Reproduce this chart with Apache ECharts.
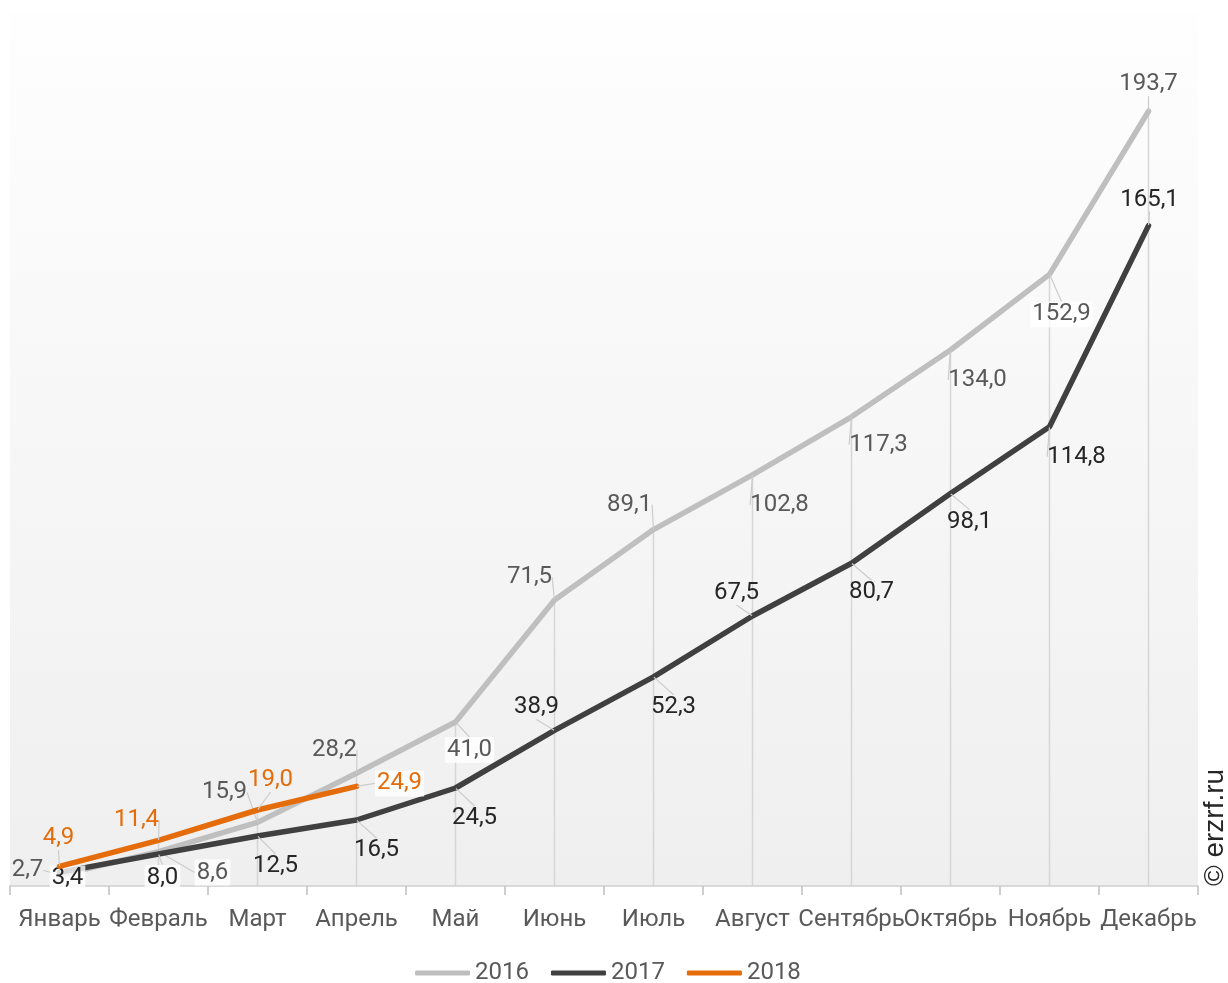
<!DOCTYPE html>
<html>
<head>
<meta charset="utf-8">
<script src="https://cdn.jsdelivr.net/npm/echarts@6/dist/echarts.min.js"></script>
<style>
html,body{margin:0;padding:0;background:#fff;}
#chart{width:1228px;height:983px;}
</style>
</head>
<body>
<div id="chart"></div>
<script>
// ---- data ----
const categories = ['Январь','Февраль','Март','Апрель','Май','Июнь','Июль','Август','Сентябрь','Октябрь','Ноябрь','Декабрь'];
const seriesNames = ['2016','2017','2018'];
const values2016 = [2.7, 8.6, 15.9, 28.2, 41.0, 71.5, 89.1, 102.8, 117.3, 134.0, 152.9, 193.7];
const values2017 = [3.4, 8.0, 12.5, 16.5, 24.5, 38.9, 52.3, 67.5, 80.7, 98.1, 114.8, 165.1];
const values2018 = [4.9, 11.4, 19.0, 24.9];

// ---- label placement (pixel offsets of label centre from point) ----
const offsets2016 = [[-32,-5],[54,21],[-33,-30],[-22,-23],[14,28],[-25,-23],[-24,-25],[27,30],[27,28],[27,30],[12,40],[0,-27]];
const offsets2017 = [[8,6],[4,24],[18,30],[20,30],[19,30],[-18,-23],[20,30],[-16,-23],[20,29],[19,28],[27,30],[1,-26]];
const offsets2018 = [[-1,-28],[-22,-20],[13,-30],[43,-3]];
const bg2016 = [0,1,0,0,1,0,0,0,0,0,1,0];
const bg2017 = [1,1,0,0,0,0,0,0,0,0,0,0];
const bg2018 = [0,0,0,1];

const colors = ['#bfbfbf', '#404040', '#e46c0a'];
const labelColors = ['#595959', '#262626', '#e46c0a'];
const FONT = 'Roboto, "Noto Sans", sans-serif';

const dropValues = categories.map((c, i) => {
  const vals = [values2016[i], values2017[i], values2018[i]].filter(v => v != null);
  return Math.max.apply(null, vals);
});

function fmt(v) { return v.toFixed(1).replace('.', ','); }

function mkData(vals, bg) {
  return vals.map((v, i) => ({
    value: v,
    label: bg[i] ? { backgroundColor: 'rgba(255,255,255,0.8)' } : {}
  }));
}

function lineSeries(idx, vals, offs, bg) {
  return {
    name: seriesNames[idx],
    type: 'line',
    data: mkData(vals, bg),
    z: 3 + idx,
    symbol: 'circle',
    symbolSize: 1,
    showSymbol: true,
    lineStyle: { color: colors[idx], width: 5.5, cap: 'round', join: 'round' },
    itemStyle: { color: colors[idx] },
    label: {
      show: true,
      position: 'inside',
      color: labelColors[idx],
      fontFamily: FONT,
      fontSize: 24,
      padding: [1, 2],
      formatter: p => fmt(p.value)
    },
    labelLine: { show: true, lineStyle: { color: '#cccccc', width: 1.2 } },
    labelLayout: function (p) {
      const o = offs[p.dataIndex] || [0, 0];
      return { dx: o[0], dy: o[1] };
    },
    emphasis: { disabled: true },
    animation: false
  };
}

const chart = echarts.init(document.getElementById('chart'));
chart.setOption({
  animation: false,
  backgroundColor: '#ffffff',
  grid: {
    left: 10, right: 30, top: 13, bottom: 97,
    show: true, borderWidth: 0,
    backgroundColor: {
      type: 'linear', x: 0, y: 0, x2: 0, y2: 1,
      colorStops: [{ offset: 0, color: '#fefefe' }, { offset: 1, color: '#efefef' }]
    }
  },
  xAxis: {
    type: 'category',
    data: categories,
    boundaryGap: true,
    axisLine: { lineStyle: { color: '#d0d0d0', width: 1.5 } },
    axisTick: { show: true, length: 9, lineStyle: { color: '#bfbfbf', width: 1.5 } },
    axisLabel: { interval: 0, color: '#595959', fontFamily: FONT, fontSize: 24, margin: 22 }
  },
  yAxis: {
    type: 'value', min: 0, max: 218.25, show: false,
    splitLine: { show: false }
  },
  legend: {
    data: seriesNames,
    left: 410, top: 956,
    icon: 'roundRect',
    itemWidth: 55, itemHeight: 5,
    itemGap: 22,
    textStyle: { color: '#595959', fontFamily: FONT, fontSize: 24 }
  },
  graphic: [{
    type: 'text',
    x: 1215, y: 886,
    rotation: Math.PI / 2,
    style: {
      text: '© erzrf.ru',
      font: '28px "Liberation Sans", Arial, sans-serif',
      fill: '#262626',
      textAlign: 'left',
      textVerticalAlign: 'middle'
    }
  }],
  series: [
    {
      name: 'drop',
      type: 'bar',
      data: dropValues,
      barWidth: 1.5,
      itemStyle: { color: '#d6d6d6' },
      silent: true,
      z: 1,
      emphasis: { disabled: true }
    },
    lineSeries(0, values2016, offsets2016, bg2016),
    lineSeries(1, values2017, offsets2017, bg2017),
    lineSeries(2, values2018, offsets2018, bg2018)
  ]
});
</script>
</body>
</html>
